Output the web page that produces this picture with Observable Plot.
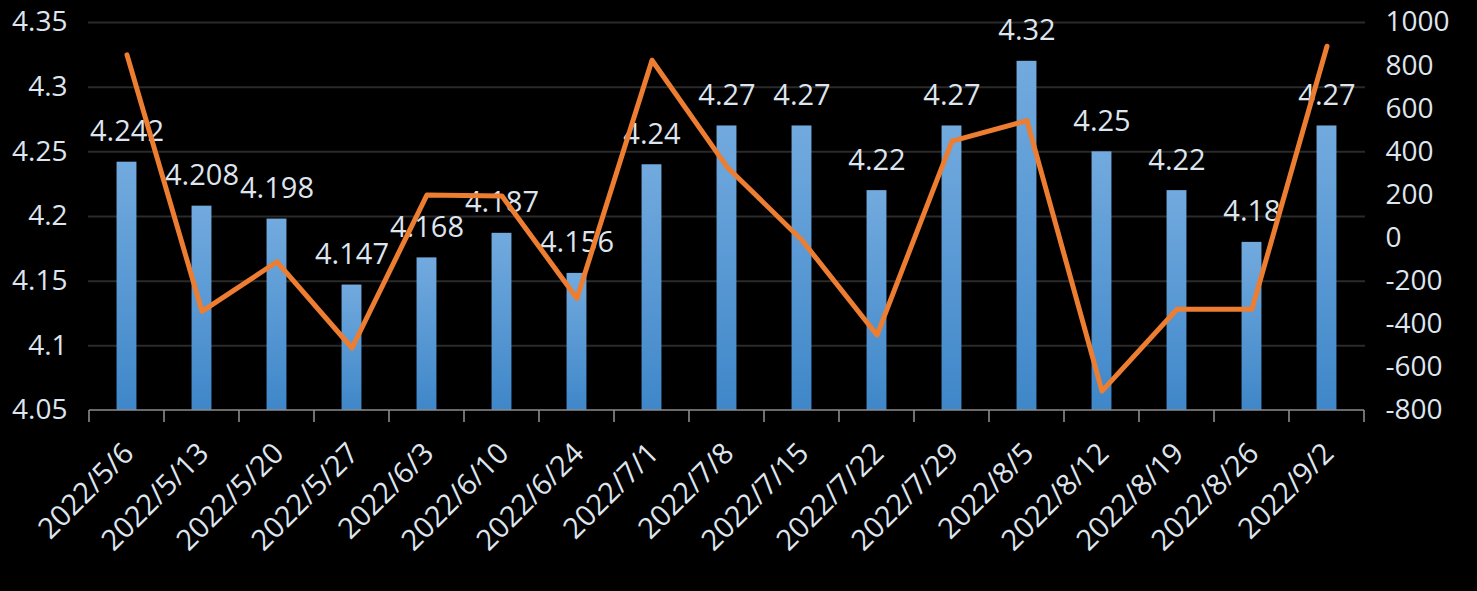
<!DOCTYPE html>
<html><head><meta charset="utf-8">
<script src="https://cdn.jsdelivr.net/npm/d3@7"></script>
<script src="https://cdn.jsdelivr.net/npm/@observablehq/plot@0.6"></script>
<style>html,body{margin:0;padding:0;background:#000;overflow:hidden;}</style>
</head><body><div id="chart"></div>
<script>
const dates = ["2022/5/6","2022/5/13","2022/5/20","2022/5/27","2022/6/3","2022/6/10","2022/6/24","2022/7/1","2022/7/8","2022/7/15","2022/7/22","2022/7/29","2022/8/5","2022/8/12","2022/8/19","2022/8/26","2022/9/2"];
const barValues = [4.242,4.208,4.198,4.147,4.168,4.187,4.156,4.24,4.27,4.27,4.22,4.27,4.32,4.25,4.22,4.18,4.27];
const lineValues = [850,-340,-110,-510,200,195,-280,825,330,-10,-450,450,545,-710,-330,-330,890];
const leftTicks = [4.05,4.1,4.15,4.2,4.25,4.3,4.35];
const rightTicks = [-800,-600,-400,-200,0,200,400,600,800,1000];

const L = [leftTicks[0], leftTicks[leftTicks.length-1]];
const R = [rightTicks[0], rightTicks[rightTicks.length-1]];
const toLeft = v => L[0] + (v - R[0]) / (R[1] - R[0]) * (L[1] - L[0]);
const toRight = v => R[0] + (v - L[0]) / (L[1] - L[0]) * (R[1] - R[0]);

const data = dates.map((d, i) => ({date: d, value: barValues[i], flow: lineValues[i]}));

const W = 1477, H = 591;
const M = {left: 88, right: 112, top: 22, bottom: 181};
const step = (W - M.left - M.right) / dates.length;
const barW = 20;
const txt = "#dfe5ee";
const font = "'Open Sans', 'Noto Sans', sans-serif";

function gradientDefs() {
  const defs = d3.create("svg:defs");
  const g = defs.append("linearGradient").attr("id", "barGrad")
    .attr("x1", 0).attr("y1", 0).attr("x2", 0).attr("y2", 1);
  g.append("stop").attr("offset", "0%").attr("stop-color", "#72aade");
  g.append("stop").attr("offset", "100%").attr("stop-color", "#3f87c9");
  return defs.node();
}

function bandAxis(index, scales, values, dims) {
  const x = scales.x, y = scales.y;
  const s = x(dates[1]) - x(dates[0]);
  const g = d3.create("svg:g").attr("stroke", "#8c8c8c").attr("stroke-width", 1.6);
  const y0 = y(L[0]);
  g.append("line").attr("x1", x(dates[0])).attr("x2", x(dates[dates.length-1]) + s)
    .attr("y1", y0).attr("y2", y0);
  const edges = dates.map(d => x(d)).concat([x(dates[dates.length-1]) + s]);
  for (const e of edges) {
    g.append("line").attr("x1", e).attr("x2", e).attr("y1", y0).attr("y2", y0 + 12);
  }
  return g.node();
}

const chart = Plot.plot({
  width: W, height: H,
  marginLeft: M.left, marginRight: M.right, marginTop: M.top, marginBottom: M.bottom,
  style: {background: "#000", color: txt, fontFamily: font},
  x: {type: "band", domain: dates, padding: 0, label: null},
  y: {domain: L, label: null},
  marks: [
    gradientDefs,
    Plot.ruleY(leftTicks.slice(1), {stroke: "#2a2a2a", strokeWidth: 2}),
    Plot.barY(data, {x: "date", y1: L[0], y2: "value", fill: "url(#barGrad)",
      insetLeft: (step - barW) / 2, insetRight: (step - barW) / 2}),
    Plot.text(data, {x: "date", y: "value", text: d => String(d.value), fill: txt,
      fontSize: 29, lineAnchor: "bottom", dy: -21}),
    Plot.line(data, {x: "date", y: d => toLeft(d.flow), stroke: "#ed7d31", strokeWidth: 5,
      strokeLinejoin: "round", strokeLinecap: "round"}),
    bandAxis,
    Plot.axisY({anchor: "left", ticks: leftTicks, tickSize: 0, tickPadding: 21, fontSize: 28,
      fill: txt, label: null, tickFormat: d => String(+d.toFixed(2))}),
    Plot.axisY({anchor: "right", ticks: rightTicks.map(toLeft), tickSize: 0, tickPadding: 20,
      fontSize: 28, fill: txt, label: null, tickFormat: d => String(Math.round(toRight(d)))}),
    Plot.axisX({anchor: "bottom", tickRotate: -45, tickSize: 0, tickPadding: 38, dx: 2,
      fontSize: 29, fill: txt, label: null})
  ]
});
document.getElementById("chart").appendChild(chart);
</script>
</body></html>
